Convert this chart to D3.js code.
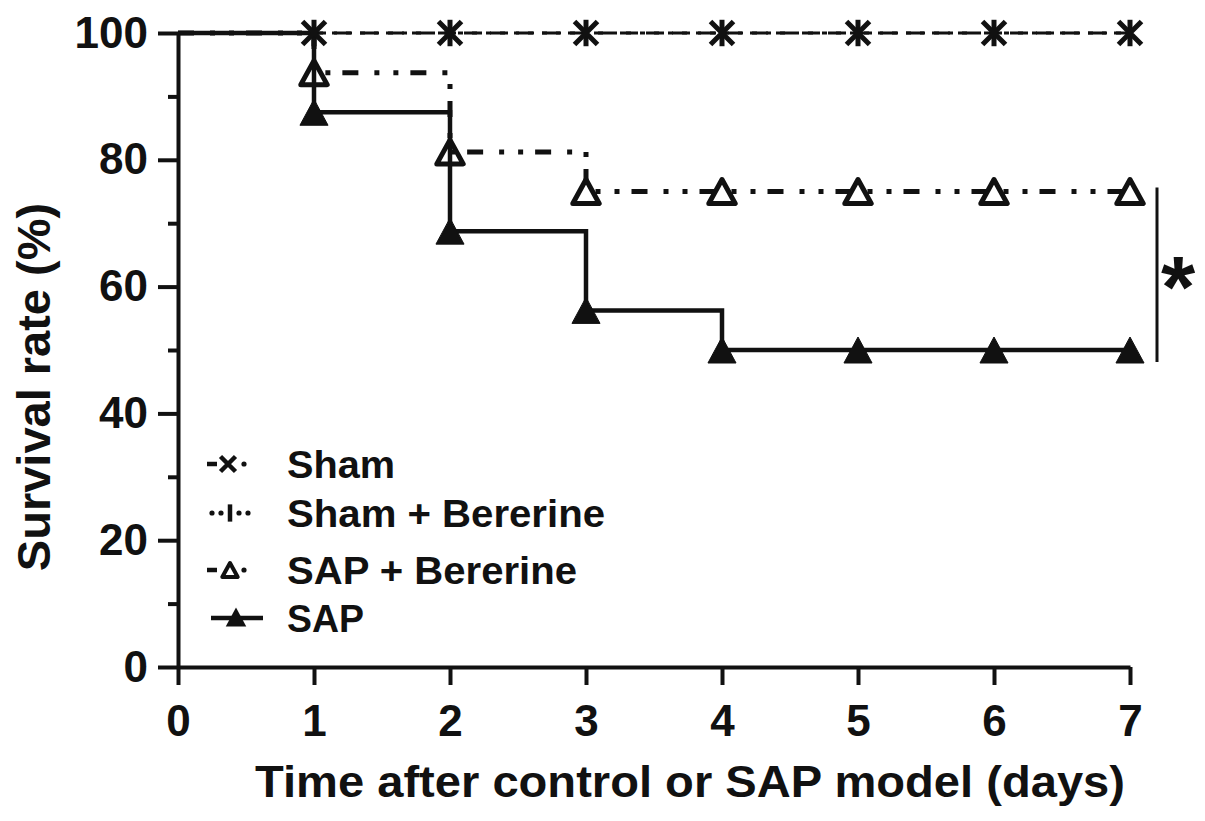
<!DOCTYPE html>
<html><head><meta charset="utf-8">
<script src="https://cdn.jsdelivr.net/npm/d3@7"></script>
<style>
body{margin:0;background:#fff}
svg{display:block}
text{font-family:"Liberation Sans",Arial,Helvetica,sans-serif;font-weight:bold;fill:#111}
</style>
</head><body>
<svg id="chart" width="1205" height="821"></svg>
<script>
// ---- data ----
const days = [0, 1, 2, 3, 4, 5, 6, 7];
const shamValues = [100, 100, 100, 100, 100, 100, 100, 100];
const shamBerValues = [100, 100, 100, 100, 100, 100, 100, 100];
const sapBerValues = [100, 93.75, 81.25, 75, 75, 75, 75, 75];
const sapValues = [100, 87.5, 68.75, 56.25, 50, 50, 50, 50];
const seriesNames = ["Sham", "Sham + Bererine", "SAP + Bererine", "SAP"];
const xTicks = [0, 1, 2, 3, 4, 5, 6, 7];
const yTicks = [0, 20, 40, 60, 80, 100];
const yMinorTicks = [10, 30, 50, 70, 90];
const xTitle = "Time after control or SAP model (days)";
const yTitle = "Survival rate (%)";
const sigLabel = "*";
const sigRange = [75, 50];

// ---- layout ----
const ink = "#111";
const svg = d3.select("#chart");
const x = d3.scaleLinear().domain([0, 7]).range([178, 1130]);
const y = d3.scaleLinear().domain([0, 100]).range([667, 33]);

// axes
const gx = svg.append("g").attr("transform", "translate(0,667)")
  .call(d3.axisBottom(x).tickValues(xTicks).tickFormat(d3.format("d"))
    .tickSize(18).tickPadding(20).tickSizeOuter(0));
const gy = svg.append("g").attr("transform", "translate(178,0)")
  .call(d3.axisLeft(y).tickValues(yTicks).tickFormat(d3.format("d"))
    .tickSize(20).tickPadding(10).tickSizeOuter(0));
const gym = svg.append("g").attr("transform", "translate(178,0)")
  .call(d3.axisLeft(y).tickValues(yMinorTicks).tickSize(10).tickFormat("").tickSizeOuter(0));
gym.select(".domain").remove();
[gx, gy, gym].forEach(g => {
  g.select(".domain").attr("stroke", ink).attr("stroke-width", 4);
  g.selectAll(".tick line").attr("stroke", ink).attr("stroke-width", 4);
  g.selectAll(".tick text").attr("fill", ink).style("font-size", "44px")
    .style("font-family", '"Liberation Sans",Arial,sans-serif').style("font-weight", "bold");
});

// titles
svg.append("text").attr("x", 690).attr("y", 797).attr("text-anchor", "middle")
  .style("font-size", "44px").attr("textLength", 870).attr("lengthAdjust", "spacingAndGlyphs")
  .text(xTitle);
svg.append("text").attr("transform", "translate(50,387) rotate(-90)").attr("text-anchor", "middle")
  .style("font-size", "47px").text(yTitle);

// lines
const stepLine = vals => d3.line().x((d, i) => x(days[i])).y(d => y(d)).curve(d3.curveStepAfter)(vals);
const series = [
  {vals: sapValues, w: 4.5, dash: null, marker: "triFilled"},
  {vals: sapBerValues, w: 5, dash: "16,16,5,14,5,12", marker: "triOpen"},
  {vals: shamBerValues, w: 3, dash: "5,9", marker: "tick"},
  {vals: shamValues, w: 3, dash: "18,8", marker: "cross"}
];
const markerPath = {
  cross: s => `M${-s},${-s}L${s},${s}M${s},${-s}L${-s},${s}`,
  tick: s => `M0,${-s * 1.15}V${s * 1.15}`,
  triOpen: s => `M0,${-s}L${s * 1.1},${s}L${-s * 1.1},${s}Z`,
  triFilled: s => `M0,${-s}L${s * 1.08},${s}L${-s * 1.08},${s}Z`
};
const markerStyle = {
  cross: {fill: "none", sw: 5},
  tick: {fill: "none", sw: 5},
  triOpen: {fill: "none", sw: 5},
  triFilled: {fill: ink, sw: 1}
};
const markerSize = {cross: 11.5, tick: 11.5, triOpen: 12, triFilled: 13};

series.forEach(s => {
  svg.append("path").attr("d", stepLine(s.vals)).attr("fill", "none")
    .attr("stroke", ink).attr("stroke-width", s.w)
    .attr("stroke-dasharray", s.dash).attr("stroke-linecap", "butt");
});
series.forEach(s => {
  const st = markerStyle[s.marker];
  svg.append("g").selectAll("path").data(s.vals.slice(1)).join("path")
    .attr("transform", (d, i) => `translate(${x(days[i + 1])},${y(d)})`)
    .attr("d", markerPath[s.marker](markerSize[s.marker]))
    .attr("fill", st.fill).attr("stroke", ink).attr("stroke-width", st.sw)
    .attr("stroke-linejoin", "round");
});

// legend
const legendRows = [
  {cy: 464, tl: 108, kind: "sham"},
  {cy: 513, tl: 318, kind: "shamBer"},
  {cy: 570, tl: 290, kind: "sapBer"},
  {cy: 618, tl: 77, kind: "sap"}
];
const lg = svg.append("g");
legendRows.forEach((r, k) => {
  const g = lg.append("g").attr("transform", `translate(0,${r.cy})`);
  if (r.kind === "sham") {
    g.append("line").attr("x1", 207).attr("x2", 217).attr("stroke", ink).attr("stroke-width", 4.5);
    g.append("path").attr("transform", "translate(228,0)").attr("d", markerPath.cross(7.5))
      .attr("stroke", ink).attr("stroke-width", 4.5);
    g.append("circle").attr("cx", 244).attr("r", 2.6).attr("fill", ink);
  } else if (r.kind === "shamBer") {
    [212, 221, 239, 248].forEach(cx => g.append("circle").attr("cx", cx).attr("r", 2.6).attr("fill", ink));
    g.append("path").attr("transform", "translate(230,0)").attr("d", markerPath.tick(7.5))
      .attr("stroke", ink).attr("stroke-width", 4.5);
  } else if (r.kind === "sapBer") {
    g.append("line").attr("x1", 207).attr("x2", 217).attr("stroke", ink).attr("stroke-width", 4.5);
    g.append("path").attr("transform", "translate(230,0)").attr("d", markerPath.triOpen(7))
      .attr("fill", "none").attr("stroke", ink).attr("stroke-width", 4).attr("stroke-linejoin", "round");
    g.append("circle").attr("cx", 244).attr("r", 2.6).attr("fill", ink);
  } else {
    g.append("line").attr("x1", 211).attr("x2", 263).attr("stroke", ink).attr("stroke-width", 4.5);
    g.append("path").attr("transform", "translate(236,-1)").attr("d", markerPath.triFilled(9.5))
      .attr("fill", ink);
  }
  g.append("text").attr("x", 287).attr("y", 14).style("font-size", "38px")
    .attr("textLength", r.tl).attr("lengthAdjust", "spacingAndGlyphs").text(seriesNames[k]);
});

// significance bracket
svg.append("line").attr("x1", 1157).attr("x2", 1157)
  .attr("y1", y(sigRange[0]) - 4).attr("y2", y(sigRange[1]) + 12)
  .attr("stroke", ink).attr("stroke-width", 3);
svg.append("text").attr("x", 1178).attr("y", 317).attr("text-anchor", "middle")
  .style("font-size", "88px").text(sigLabel);
</script>
</body></html>
